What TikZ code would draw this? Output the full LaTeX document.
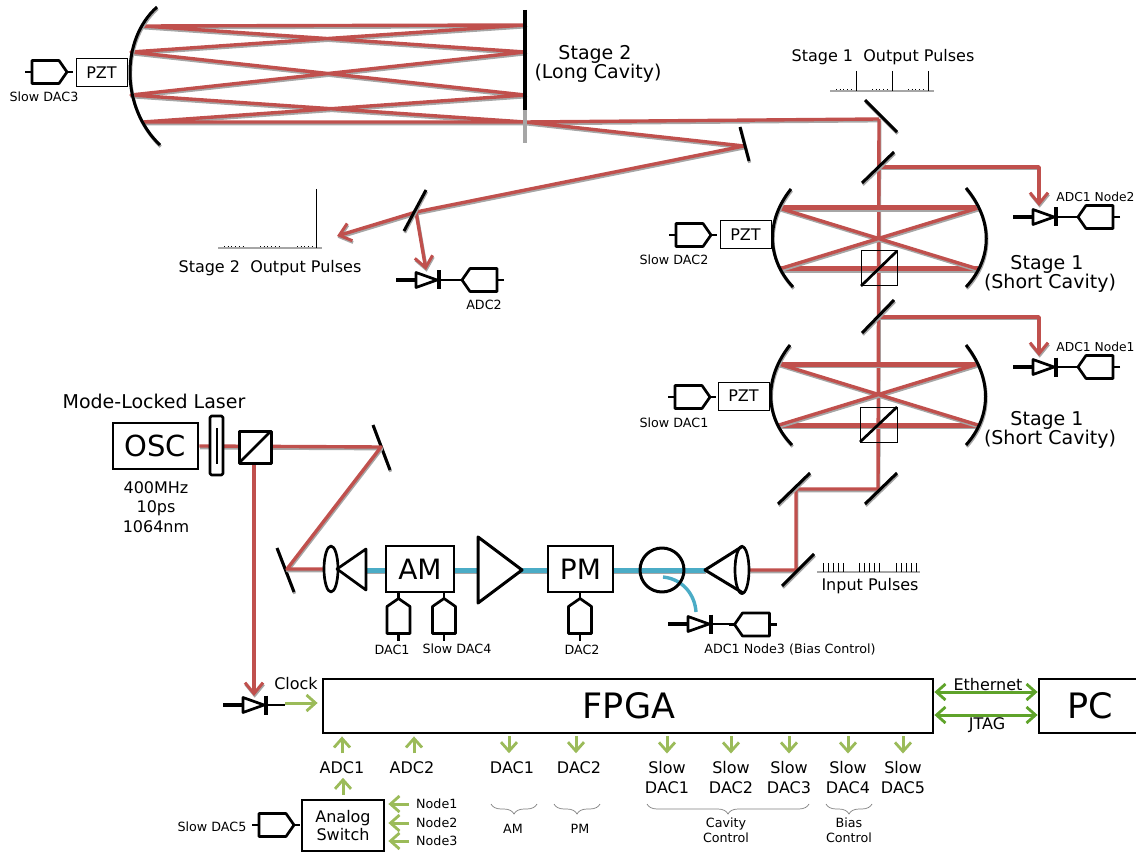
\documentclass[tikz,border=0pt]{standalone}
\usepackage{fontspec}
\setmainfont{DejaVu Sans}
\usetikzlibrary{arrows.meta,decorations.pathreplacing}
\definecolor{beamred}{HTML}{C0504D}
\definecolor{beamgray}{HTML}{A6A6A6}
\definecolor{fibreblue}{HTML}{4BACC6}
\definecolor{sigline}{HTML}{9BBB59}
\definecolor{linkline}{HTML}{5FA32A}
\newcommand{\withshadow}[2]{%
    \begin{scope}[transform canvas={xshift=0.7pt,yshift=-1.7pt}]\draw[#1,draw=beamgray] #2;\end{scope}%
    \draw[#1] #2;}

\begin{document}
\begin{tikzpicture}[
    x=1pt, y=-1pt,
    beam/.style={draw=beamred, line width=3.4pt, line join=round},
    cavbeam/.style={beam, line width=5pt},
    fibre/.style={draw=fibreblue, line width=5pt},
    hit/.style={-{Straight Barb[length=11pt,width=18pt,line width=3pt]}},
    mirrorline/.style={draw=black, line width=3pt},
    part/.style={draw=black, line width=2.7pt, line join=round},
    sig/.style={draw=sigline, line width=3pt, -{Rectangle[length=0.01pt,width=0.01pt,sep=2.5pt]Straight Barb[length=9pt,width=16pt,line width=2.8pt]}},
    link/.style={draw=linkline, line width=3pt, {Straight Barb[length=9pt,width=16pt,line width=2.8pt]Rectangle[length=0.01pt,width=0.01pt,sep=3pt]}-{Rectangle[length=0.01pt,width=0.01pt,sep=3pt]Straight Barb[length=9pt,width=16pt,line width=2.8pt]}},
    unit/.style={draw=black, line width=2.8pt, inner sep=0pt},
    pzt/.style={draw=black, line width=1pt, minimum width=51pt, minimum height=28pt, inner sep=0pt, font=\fontsize{16}{19}\selectfont},
    txt/.style={inner sep=0pt, align=center, font=\fontsize{16}{19.2}\selectfont},
    bigtxt/.style={inner sep=0pt, align=center, font=\fontsize{19}{19}\selectfont},
    smalltxt/.style={inner sep=0pt, align=center, font=\fontsize{12.7}{15}\selectfont},
    edgetxt/.style={inner sep=0pt, font=\fontsize{12.3}{15}\selectfont},
    groupbrace/.style={draw=gray, line width=0.7pt, decorate, decoration={brace, mirror, amplitude=10pt}},
    spike/.style={draw=black, line width=1pt},
    baseline/.style={draw=beamgray, line width=1.2pt},
    dots/.style={draw=black, line width=1pt, dash pattern=on 1pt off 2.7pt},
    ticks/.style={draw=black, line width=9pt, dash pattern=on 1.2pt off 3.75pt},
    dac/.pic={
        \draw[part] (-17.5,-11.5) -- (9.5,-11.5) -- (17.5,0) -- (9.5,11.5) -- (-17.5,11.5) -- cycle;
        \draw[part] (-24.5,0) -- (-17.5,0) (17.5,0) -- (23.5,0);
    },
    diode/.pic={
        \draw[part, line width=3.2pt] (-20,0) -- (0,0);
        \draw[part] (0,-7.5) -- (21,0) -- (0,7.5) -- cycle;
        \draw[part, line width=3.2pt] (23,-9.5) -- (23,9.5);
        \draw[part] (23,0) -- (42,0);
    }
]
\useasboundingbox (0,0) rectangle (1136,853);

% Stage 2: long cavity
\coordinate (lt) at (143,26);
\coordinate (lu) at (131,52);
\coordinate (ld) at (131,95);
\coordinate (lb) at (143,122);
\coordinate (rt) at (525,25);
\coordinate (rm) at (525,52);
\coordinate (rd) at (525,95);
\coordinate (rb) at (525,122);
\coordinate (fold) at (879,119);
\coordinate (turn) at (744,146);
\coordinate (split2) at (416,212);
\coordinate (out2) at (337,236);
\coordinate (adc2in) at (426,270);
\withshadow{beam}{(fold) -- (rb) -- (lb) -- (rd) -- (lu) -- (rt) -- (lt) -- (rm) -- (ld) -- (rb) -- (turn) -- (split2)}
\withshadow{beam, hit}{(split2) -- (out2)}
\withshadow{beam, hit}{(split2) -- (adc2in)}

% Stage 1: beam path
\coordinate (m1) at (796,570);
\coordinate (m2) at (796,489);
\coordinate (m3) at (878,489);
\coordinate (sp1) at (878,317);
\coordinate (sp2) at (878,167);
\coordinate (c1) at (1039,317);
\coordinate (c2) at (1039,167);
\coordinate (n1in) at (1039,356);
\coordinate (n2in) at (1039,206);
\withshadow{beam}{(750,570) -- (m1) -- (m2) -- (m3) -- (fold)}
\withshadow{beam, hit}{(sp2) -- (c2) -- (n2in)}
\withshadow{beam, hit}{(sp1) -- (c1) -- (n1in)}

% Stage 1: upper cavity
\coordinate (ua) at (779,208);
\coordinate (ub) at (978,208);
\coordinate (uc) at (779,269);
\coordinate (ud) at (978,269);
\withshadow{cavbeam}{(ua) -- (ub) (uc) -- (ud)}
\withshadow{beam}{(ua) -- (ud) (uc) -- (ub)}

% Stage 1: lower cavity
\coordinate (la) at (779,364);
\coordinate (lc) at (978,364);
\coordinate (le) at (779,425);
\coordinate (lf) at (978,425);
\withshadow{cavbeam}{(la) -- (lc) (le) -- (lf)}
\withshadow{beam}{(la) -- (lf) (le) -- (lc)}

% Fibre line
\withshadow{fibre}{(366,570) -- (705,570)}
\draw[draw=fibreblue, line width=3.4pt] (663,577) .. controls (683,579) and (695,595) .. (696,612);

% Mirrors and splitters
\withshadow{mirrorline}{(157,7) .. controls (120,40) and (121,108) .. (160,145)}
\draw[mirrorline, line width=4pt] (525,10) -- (525,110);
\draw[draw=beamgray, line width=4pt] (525,110) -- (525,143);
\withshadow{mirrorline}{(740,127) -- (749,161)}
\withshadow{mirrorline}{(426,190) -- (404,231)}
\withshadow{mirrorline}{(865,100) -- (897,132)}
\withshadow{mirrorline}{(862,183) -- (894,152)}
\withshadow{mirrorline}{(862,333) -- (894,300)}
\withshadow{mirrorline}{(865,504) -- (897,473)}
\withshadow{mirrorline}{(778,504) -- (810,473)}
\withshadow{mirrorline}{(782,586) -- (814,554)}
\withshadow{mirrorline}{(373,425) -- (390,470)}
\withshadow{mirrorline}{(277,548) -- (294,592)}

% Cavity end mirrors
\withshadow{mirrorline}{(791,189) .. controls (766,220) and (766,258) .. (793,287)}
\withshadow{mirrorline}{(966,188) .. controls (993,220) and (993,258) .. (966,287)}
\withshadow{mirrorline}{(790,345) .. controls (764,378) and (764,416) .. (792,445)}
\withshadow{mirrorline}{(966,345) .. controls (992,378) and (992,416) .. (966,445)}

% Cubes in the cavities
\draw[draw=black, line width=1pt] (861,251) rectangle (897,286);
\draw[part] (861,286) -- (897,251);
\draw[draw=black, line width=1pt] (860,407) rectangle (897,442);
\draw[part] (860,442) -- (897,407);

% Oscillator and bench
\node[unit, minimum width=85pt, minimum height=46pt, font=\fontsize{29}{30}\selectfont] (osc) at (155.5,446) {OSC};
\coordinate (mt) at (381,447);
\coordinate (mb) at (287,569);
\coordinate (lensin) at (324,569);
\coordinate (clkin) at (254,696);
\withshadow{beam}{(osc.east) -- (mt) -- (mb) -- (lensin)}
\withshadow{beam, hit}{(254,463) -- (clkin)}
\node[bigtxt] (laser) at (154,401) {Mode-Locked Laser};
\node[txt] (oscdata) at (156,507) {400MHz\\10ps\\1064nm};
\draw[part, rounded corners=1.5pt, fill=white] (210,416) rectangle (223,475);
\draw[part] (217,428) -- (217,464);
\draw[part, line width=3pt, fill=white] (239,431) rectangle (271,463);
\draw[part] (239,463) -- (271,431);
\draw[part, fill=white] (331,569) ellipse [x radius=7pt, y radius=23pt];
\draw[part, fill=white] (337,569) -- (366,549) -- (366,590) -- cycle;
\node[unit, fill=white, minimum width=68pt, minimum height=46pt, font=\fontsize{28}{30}\selectfont] (am) at (420,569) {AM};
\draw[part, line width=3pt, fill=white] (478,537) -- (522,570) -- (478,603) -- cycle;
\node[unit, fill=white, minimum width=65pt, minimum height=46pt, font=\fontsize{28}{30}\selectfont] (pm) at (580.5,569) {PM};
\draw[part, line width=3pt] (662,570) circle (22pt);
\draw[part, line width=3pt] (743,546) -- (705,570) -- (743,593);
\draw[part] (742,570) ellipse [x radius=7pt, y radius=23.5pt];

% Modulator inputs
\pic[rotate=90] at (398.5,616) {dac};
\pic[rotate=90] at (444,616) {dac};
\pic[rotate=90] at (580,616) {dac};
\node[smalltxt] (amdac) at (392,650) {DAC1};
\node[smalltxt] (amslow) at (457,649) {Slow DAC4};
\node[smalltxt] (pmdac) at (582,650) {DAC2};

% Piezo stages
\node[pzt] (pzt3) at (101.5,72.5) {PZT};
\node[pzt] (pzt2) at (745.5,235) {PZT};
\node[pzt] (pzt1) at (743.5,396) {PZT};
\pic at (49.5,72) {dac};
\pic at (693.5,235) {dac};
\pic at (692.5,397) {dac};
\node[smalltxt] (slow3) at (44,97) {Slow DAC3};
\node[smalltxt] (slow2) at (674,260) {Slow DAC2};
\node[smalltxt] (slow1) at (674,423) {Slow DAC1};

% Photodiodes and readouts
\pic at (1033,217) {diode};
\pic[rotate=180] at (1095.5,217) {dac};
\node[edgetxt] (node2) at (1095.5,197) {ADC1 Node2};
\pic at (1033,367) {diode};
\pic[rotate=180] at (1095.5,367) {dac};
\node[edgetxt] (node1) at (1095.5,347) {ADC1 Node1};
\pic at (416,280) {diode};
\pic[rotate=180] at (479.5,280) {dac};
\node[smalltxt] (adc2t) at (484,305) {ADC2};
\pic at (688,624) {diode};
\pic[rotate=180] at (752,624.5) {dac};
\node[smalltxt] (node3) at (790,650) {ADC1 Node3 (Bias Control)};
\pic at (243,705) {diode};

% Pulse trains
\node[txt] (s1pulse) at (883,57.5) {Stage 1\ \ Output Pulses};
\draw[baseline] (830,91) -- (934,91);
\draw[spike] (856,71) -- (856,91) (892,71) -- (892,91) (928,71) -- (928,91);
\draw[dots] (836,90) -- (853,90) (872,90) -- (889,90) (908,90) -- (925,90);
\node[txt] (s2pulse) at (270,268.5) {Stage 2\ \ Output Pulses};
\draw[baseline] (218,248) -- (322,248);
\draw[spike] (316,189) -- (316,248);
\draw[dots] (224,247) -- (244,247) (260,247) -- (280,247) (297,247) -- (313,247);
\node[txt] (inpulse) at (870,586.5) {Input Pulses};
\draw[baseline] (817,572) -- (920,572);
\draw[ticks] (823,567) -- (845,567) (859,567) -- (881,567) (896,567) -- (918,567);

% Stage names
\node[bigtxt] (s2name) at (598,63.5) {\hspace*{-6pt}Stage 2\\(Long Cavity)};
\node[bigtxt] (s1upper) at (1050,274) {\hspace*{-6pt}Stage 1\\(Short Cavity)};
\node[bigtxt] (s1lower) at (1050,429.5) {\hspace*{-6pt}Stage 1\\(Short Cavity)};

% FPGA and PC
\node[unit, minimum width=610pt, minimum height=54pt, font=\fontsize{35}{36}\selectfont] (fpga) at (628,706) {\hspace*{2pt}FPGA};
\node[unit, minimum width=101pt, minimum height=54pt, font=\fontsize{35}{36}\selectfont, text width=44pt, align=center] (pc) at (1089.5,706) {PC};
\node[txt] (clock) at (296,684) {Clock};
\coordinate (clkout) at (285,703);
\draw[sig, shorten >=4pt] (clkout) -- (clkout -| fpga.west);
\draw[link] (fpga.east |- 0,692) -- (pc.west |- 0,692);
\draw[link] (fpga.east |- 0,715) -- (pc.west |- 0,715);
\node[txt] (eth) at (988,684.5) {Ethernet};
\node[txt] (jtag) at (987,725.5) {JTAG};

% Converters under the FPGA
\node[txt] (adc1) at (342,767.5) {ADC1};
\node[txt] (adc2) at (412,767.5) {ADC2};
\node[txt] (dac1) at (512,767.5) {DAC1};
\node[txt] (dac2) at (579,767.5) {DAC2};
\node[txt] (sd1) at (667,777.5) {Slow\\DAC1};
\node[txt] (sd2) at (731,777.5) {Slow\\DAC2};
\node[txt] (sd3) at (789,777.5) {Slow\\DAC3};
\node[txt] (sd4) at (848,777.5) {Slow\\DAC4};
\node[txt] (sd5) at (903,777.5) {Slow\\DAC5};
\draw[sig, shorten <=8pt, shorten >=2pt] (adc1.north) -- (adc1.north |- fpga.south);
\draw[sig, shorten <=8pt, shorten >=2pt] ([xshift=2pt]adc2.north) -- ([xshift=2pt]adc2.north |- fpga.south);
\draw[sig, shorten <=2pt, shorten >=8pt] ([xshift=-3pt]dac1.north |- fpga.south) -- ([xshift=-3pt]dac1.north);
\draw[sig, shorten <=2pt, shorten >=8pt] ([xshift=-3pt]dac2.north |- fpga.south) -- ([xshift=-3pt]dac2.north);
\draw[sig, shorten <=2pt, shorten >=8pt] (sd1.north |- fpga.south) -- (sd1.north);
\draw[sig, shorten <=2pt, shorten >=8pt] (sd2.north |- fpga.south) -- (sd2.north);
\draw[sig, shorten <=2pt, shorten >=8pt] (sd3.north |- fpga.south) -- (sd3.north);
\draw[sig, shorten <=2pt, shorten >=8pt] (sd4.north |- fpga.south) -- (sd4.north);
\draw[sig, shorten <=2pt, shorten >=8pt] (sd5.north |- fpga.south) -- (sd5.north);

% Control groups
\draw[groupbrace] (491,804) -- (537,804);
\draw[groupbrace] (554,804) -- (600,804);
\draw[groupbrace] (647,804) -- (809,804);
\draw[groupbrace] (826,804) -- (872,804);
\node[smalltxt] (gam) at (513,829) {AM};
\node[smalltxt] (gpm) at (580,829) {PM};
\node[smalltxt] (gcav) at (726,830.5) {Cavity\\Control};
\node[smalltxt] (gbias) at (849,830.5) {Bias\\Control};

% Analog switch
\node[unit, minimum width=82pt, minimum height=51pt, font=\fontsize{16}{18.8}\selectfont, align=center] (sw) at (343,825.5) {Analog\\Switch};
\pic at (276.5,825) {dac};
\node[smalltxt] (slow5) at (212,827) {Slow DAC5};
\node[smalltxt, anchor=west] (in1) at (416,804) {Node1};
\node[smalltxt, anchor=west] (in2) at (416,823) {Node2};
\node[smalltxt, anchor=west] (in3) at (416,841) {Node3};
\draw[sig, shorten <=7pt, shorten >=3pt] (in1.west) -- (in1.west -| sw.east);
\draw[sig, shorten <=7pt, shorten >=3pt] (in2.west) -- (in2.west -| sw.east);
\draw[sig, shorten <=7pt, shorten >=3pt] (in3.west) -- (in3.west -| sw.east);
\draw[sig, shorten <=4pt, shorten >=4pt] (sw.north) -- (sw.north |- adc1.south);

\end{tikzpicture}
\end{document}
